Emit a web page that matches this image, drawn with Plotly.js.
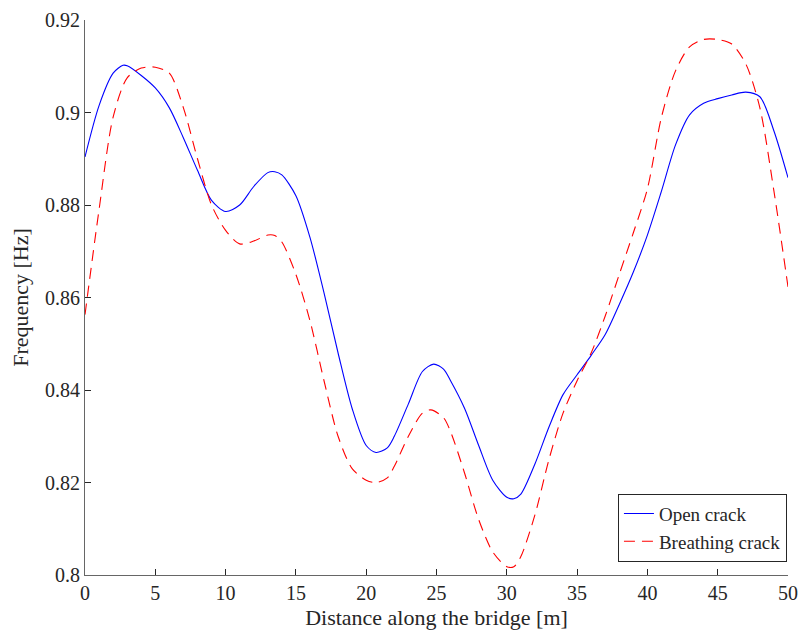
<!DOCTYPE html>
<html>
<head>
<meta charset="utf-8">
<script src="https://cdn.plot.ly/plotly-3.0.1.min.js"></script>
<style>html,body{margin:0;padding:0;background:#fff;}#chart{width:800px;height:637px;}</style>
</head>
<body>
<div id="chart"></div>
<script>
const openX = [0,1,2,2.7,3,4,5,6,7,8,9,10,11,12,13,13.5,14,15,16,17,18,19,20,20.7,21.5,22,23,24,24.8,25.5,26,27,28,29,30,30.5,31,32,33,34,35,36,37,38,39,40,41,42,43,44,45,46,47,48,49,50];
const openY = [0.8904,0.9015,0.9085,0.9102,0.9101,0.9080,0.9053,0.9010,0.8945,0.8875,0.8810,0.8786,0.8800,0.8840,0.8870,0.8872,0.8865,0.8820,0.8730,0.8610,0.8480,0.8360,0.8280,0.8265,0.8275,0.8300,0.8370,0.8440,0.8456,0.8445,0.8420,0.8360,0.8280,0.8205,0.8168,0.8165,0.8175,0.8240,0.8320,0.8390,0.8433,0.8475,0.8520,0.8585,0.8655,0.8735,0.8830,0.8930,0.8995,0.9020,0.9030,0.9038,0.9044,0.9034,0.8960,0.8859];
const breathX = [0,1,2,3,4,5,6,7,8,9,10,11,12,13,13.5,14,15,16,17,18,19,20,20.7,21.5,22,23,24,24.6,25.5,26,27,28,29,30,30.5,31,32,33,34,35,36,37,38,39,40,41,42,43,44,45,46,47,48,49,50];
const breathY = [0.8563,0.8790,0.8990,0.9075,0.9096,0.9098,0.9085,0.9010,0.8900,0.8800,0.8745,0.8716,0.8722,0.8735,0.8734,0.8720,0.8650,0.8550,0.8420,0.8300,0.8230,0.8205,0.8200,0.8210,0.8235,0.8300,0.8350,0.8357,0.8340,0.8310,0.8220,0.8120,0.8050,0.8018,0.8018,0.8040,0.8130,0.8250,0.8350,0.8420,0.8480,0.8560,0.8650,0.8740,0.8835,0.8990,0.9090,0.9142,0.9158,0.9158,0.9148,0.9105,0.9010,0.8830,0.8623];
const xTicks = [0,5,10,15,20,25,30,35,40,45,50];
const yTicks = [0.8,0.82,0.84,0.86,0.88,0.9,0.92];
const yTickText = ['0.8','0.82','0.84','0.86','0.88','0.9','0.92'];

const font = {family: '"Liberation Serif", "Times New Roman", "DejaVu Serif", serif', color: '#262626'};
const traces = [
  {x: openX, y: openY, type: 'scatter', mode: 'lines', name: 'Open crack',
   line: {color: '#0000ff', width: 1.1, shape: 'spline', smoothing: 0.8}},
  {x: breathX, y: breathY, type: 'scatter', mode: 'lines', name: 'Breathing crack',
   line: {color: '#ff0000', width: 1.1, dash: '11px,7px', shape: 'spline', smoothing: 0.8}}
];
const layout = {
  width: 800, height: 637,
  margin: {l: 85, r: 12, t: 20, b: 62},
  paper_bgcolor: '#fff', plot_bgcolor: '#fff',
  font: Object.assign({size: 20}, font),
  showlegend: true,
  legend: {x: 0.9985, y: 0.024, xanchor: 'right', yanchor: 'bottom',
    bordercolor: '#262626', borderwidth: 1, bgcolor: '#fff',
    font: Object.assign({size: 19}, font), tracegroupgap: 0},
  xaxis: {range: [0, 50], tickvals: xTicks, ticks: 'inside', ticklen: 6, tickcolor: '#262626',
    showline: true, linecolor: '#666', linewidth: 1, showgrid: false, zeroline: false,
    tickfont: Object.assign({size: 20}, font),
    title: {text: 'Distance along the bridge [m]', font: Object.assign({size: 22}, font), standoff: 6}},
  yaxis: {range: [0.8, 0.92], tickvals: yTicks, ticktext: yTickText, ticks: 'inside', ticklen: 6, tickcolor: '#262626',
    showline: true, linecolor: '#666', linewidth: 1, showgrid: false, zeroline: false,
    tickfont: Object.assign({size: 20}, font),
    title: {text: 'Frequency [Hz]', font: Object.assign({size: 22}, font), standoff: 10}}
};
Plotly.newPlot('chart', traces, layout, {displayModeBar: false, staticPlot: true});
</script>
</body>
</html>
